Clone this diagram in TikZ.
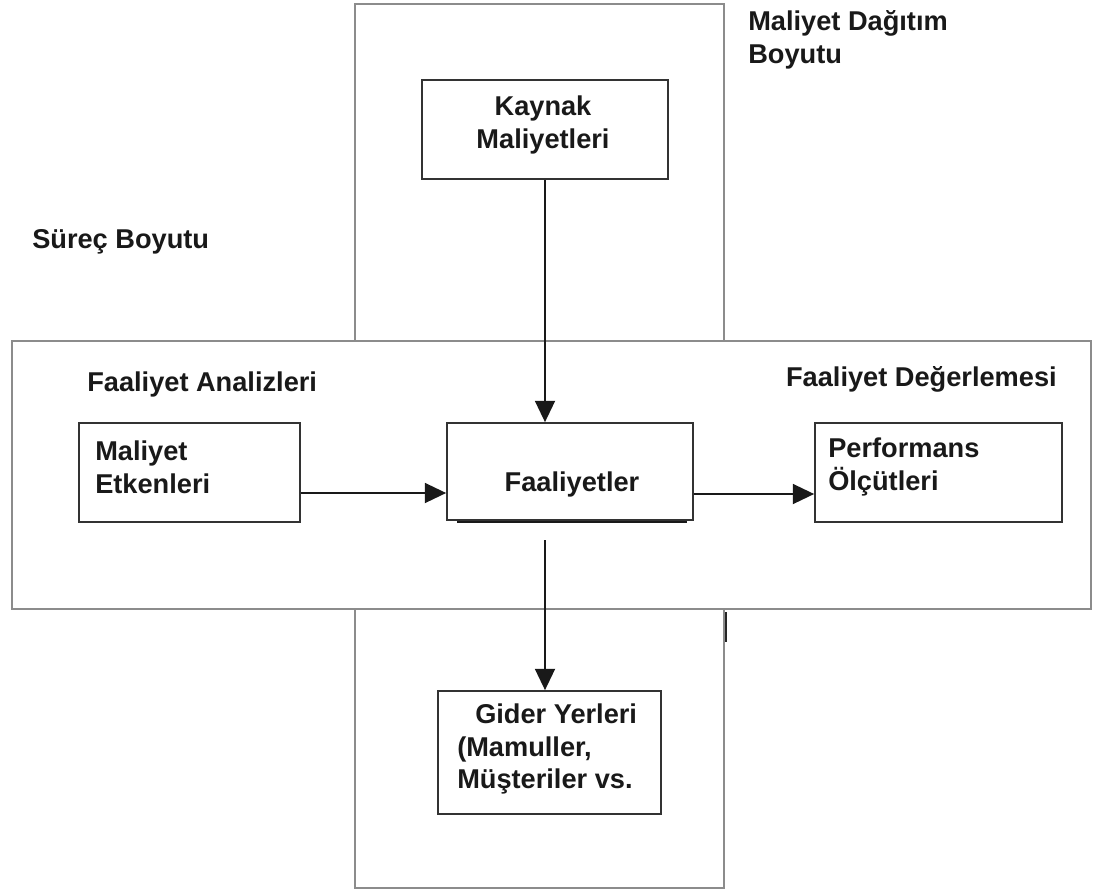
\documentclass[tikz,border=0pt]{standalone}
\usepackage{fontspec}
\setmainfont{Liberation Sans}
\usetikzlibrary{arrows.meta,fit}
\begin{document}
\begin{tikzpicture}[x=0.75pt,y=-0.75pt,
  bigbox/.style={draw=black!45, line width=1.6pt},
  box/.style={draw=black!80, line width=1.3pt, fill=white, inner sep=0pt},
  lbl/.style={font=\fontsize{20.4}{24.5}\selectfont\bfseries, inner sep=0pt, align=left, text=black!90},
  arr/.style={draw=black!90, line width=1.4pt, -{Triangle[length=16pt,width=15pt]}}]
\useasboundingbox (0,0) rectangle (1096,893);
\fill[white] (0,0) rectangle (1096,893);
% dimension frames
\draw[bigbox] (355,4) rectangle (724,888);
\draw[bigbox, fill=white] (12,341) rectangle (1091,609);
\draw[black!85, line width=1.5pt] (726,612) -- (726,642);
% boxes
\node[box, fit={(422,80) (668,179)}] (kay) {};
\node[box, fit={(447,423) (693,520)}] (fa) {};
\draw[black!90, line width=2pt] (457,522) -- (687,522);
\node[box, fit={(79,423) (300,522)}] (me) {};
\node[box, fit={(815,423) (1062,522)}] (pe) {};
\node[box, fit={(438,691) (661,814)}] (gi) {};
% box texts
\node[lbl, align=center] (kayt) at (543,125) {Kaynak\\Maliyetleri};
\node[lbl] (fat) at (572,484) {Faaliyetler};
\node[lbl, anchor=west] (met) at (95,467) {Maliyet\\Etkenleri};
\node[lbl, anchor=west] (pet) at (828,467) {Performans\\Ölçütleri};
\node[lbl, anchor=west] (git) at (457,749) {\hspace*{13.5pt}Gider Yerleri\\(Mamuller,\\Müşteriler vs.};
% labels
\node[lbl, anchor=west] (mdb) at (748,40) {Maliyet Dağıtım\\Boyutu};
\node[lbl, anchor=west] (sb) at (32,242) {Süreç Boyutu};
\node[lbl, anchor=west] (fan) at (87,384) {Faaliyet Analizleri};
\node[lbl, anchor=east] (fde) at (1057,379) {Faaliyet Değerlemesi};
% connectors
\coordinate (fb) at (545,540);
\draw[arr] (kay.south) -- (kay.south |- fa.north);
\draw[arr] (me.east |- 0,493) -- (fa.west |- 0,493);
\draw[arr] (fa.east |- 0,494) -- (pe.west |- 0,494);
\draw[arr] (fb) -- (fb |- gi.north);
\end{tikzpicture}
\end{document}
